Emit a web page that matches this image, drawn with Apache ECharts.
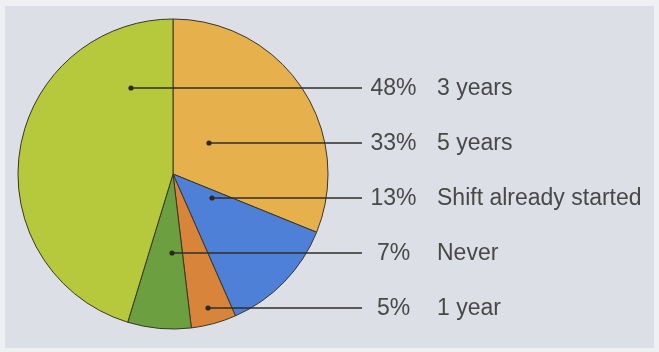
<!DOCTYPE html>
<html>
<head>
<meta charset="utf-8">
<script src="https://cdn.jsdelivr.net/npm/echarts@6/dist/echarts.min.js"></script>
<style>
  html, body { margin: 0; padding: 0; background: #eef0f3; }
  #chart { width: 659px; height: 352px; }
</style>
</head>
<body>
<div id="chart"></div>
<script>
// Survey answers, listed clockwise from 12 o'clock
const categories = ['5 years', 'Shift already started', '1 year', 'Never', '3 years'];
const values = [33, 13, 5, 7, 48];
const colors = ['#e6b04c', '#4d80d6', '#d8843a', '#6b9f3f', '#b6c93c'];

// Callout layout: row order of the labels and where each leader line starts
const rowOf = [1, 2, 4, 3, 0];
const leaderStartX = [209, 212, 208, 172, 131];
const firstRowY = 88, rowGap = 55, lineEndX = 362, labelX = 370;

const chart = echarts.init(document.getElementById('chart'));

const rowY = i => firstRowY + rowOf[i] * rowGap;
const font = 'Liberation Sans, Arial, sans-serif';

// Leader lines and their start dots sit above the sectors
const leaders = [];
categories.forEach((_, i) => {
  leaders.push({
    type: 'line', z: 100,
    shape: { x1: leaderStartX[i], y1: rowY(i), x2: lineEndX, y2: rowY(i) },
    style: { stroke: '#2e2e28', lineWidth: 1.4 }
  });
  leaders.push({
    type: 'circle', z: 101,
    shape: { cx: leaderStartX[i], cy: rowY(i), r: 2.6 },
    style: { fill: '#2a2a22' }
  });
});

chart.setOption({
  animation: false,
  backgroundColor: '#eef0f3',
  graphic: [
    { type: 'rect', z: -10, shape: { x: 5, y: 6, width: 649, height: 342 },
      style: { fill: '#dcdfe5' } }
  ].concat(leaders),
  series: [{
    type: 'pie',
    center: [173, 174],
    radius: 155,
    startAngle: 90,
    clockwise: true,
    avoidLabelOverlap: false,
    emphasis: { disabled: true },
    itemStyle: { borderColor: '#3a3628', borderWidth: 1 },
    data: categories.map((name, i) => ({
      name, value: values[i], itemStyle: { color: colors[i] }
    })),
    label: {
      show: true,
      position: 'outside',
      formatter: '{p|{c}%}{n|{b}}',
      fontFamily: font,
      fontSize: 23,
      color: '#484848',
      rich: {
        p: { width: 47, align: 'right', fontSize: 23, color: '#484848', fontFamily: font },
        n: { padding: [0, 0, 0, 20], fontSize: 23, color: '#484848', fontFamily: font }
      }
    },
    labelLine: { show: false },
    labelLayout: function (params) {
      return {
        x: labelX,
        y: rowY(params.dataIndex) + 1,
        align: 'left',
        verticalAlign: 'middle'
      };
    }
  }]
});
</script>
</body>
</html>
